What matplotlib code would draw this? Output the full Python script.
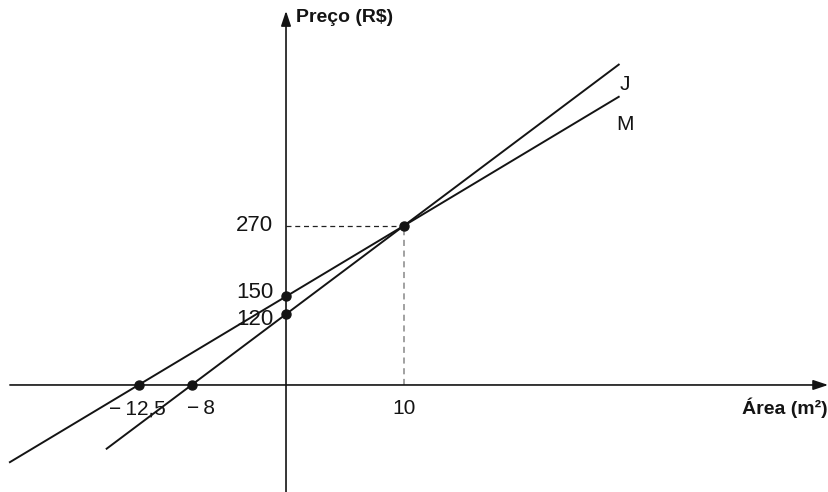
import matplotlib
matplotlib.use("Agg")
import matplotlib.pyplot as plt
import numpy as np

plt.rcParams["font.family"] = ["Liberation Sans", "DejaVu Sans"]

# ── Data ──────────────────────────────────────────────────────────────
line_names = ["J", "M"]
intercepts = [120, 150]          # price at area 0
slopes = [15, 12]                # R$ per m²
roots = [-8, -12.5]              # area where price is 0
x_ranges = [(-15.2, 28.2), (-23.4, 28.2)]
x_ticks = [-12.5, -8, 10]
x_tick_labels = ["\u2212\u200912,5", "\u2212\u20098", "10"]
y_ticks = [120, 150, 270]
meet_x, meet_y = 10, 270

INK = "#141414"

fig = plt.figure(figsize=(8.29, 4.92), dpi=100)
ax = fig.add_axes([0, 0, 1, 1])
ax.set_xlim(-24.24, 46.02)
ax.set_ylim(-181.4, 652.5)
ax.axis("off")

# axes with arrows
arrow = dict(arrowstyle="-|>,head_length=0.9,head_width=0.3", color=INK, lw=1.2,
             shrinkA=0, shrinkB=0)
ax.annotate("", xy=(45.95, 0), xytext=(-23.4, 0), arrowprops=arrow)
ax.annotate("", xy=(0, 634), xytext=(0, -181.4), arrowprops=arrow)

# the two lines
label_off = {"J": (6, -20), "M": (6, -28)}
for name, b, m, (x0, x1) in zip(line_names, intercepts, slopes, x_ranges):
    xs = np.array([x0, x1])
    ax.plot(xs, b + m * xs, color=INK, lw=1.4, zorder=3)
    ax.annotate(name, (x1, b + m * x1), xytext=label_off[name],
                textcoords="offset pixels", fontsize=15, ha="center",
                va="center", color=INK)

# guide lines to the meeting point
ax.plot([0, meet_x], [meet_y, meet_y], color="#222", lw=0.9, ls=(0, (4, 3)))
ax.plot([meet_x, meet_x], [0, meet_y], color="#888", lw=1.1, ls=(0, (4, 3)))

# marked points
pts_x = roots + [0, 0, meet_x]
pts_y = [0, 0] + intercepts + [meet_y]
ax.plot(pts_x, pts_y, "o", color=INK, ms=6.5, zorder=5)

# tick labels
x_off = {-12.5: -1, -8: 9, 10: 0}
for xv, lab in zip(x_ticks, x_tick_labels):
    ax.annotate(lab, (xv, 0), xytext=(x_off[xv], -24),
                textcoords="offset pixels", fontsize=15, ha="center",
                va="center", color=INK)
y_off = {120: -5, 150: 4, 270: 0}
for yv in y_ticks:
    ax.annotate(str(yv), (0, yv), xytext=(-13, y_off[yv]),
                textcoords="offset pixels", fontsize=16, ha="right",
                va="center", color=INK)

ax.text(0.85, 622, "Preço (R$)", fontsize=14, fontweight="bold",
        ha="left", va="center", color=INK)
ax.text(45.9, -39, "Área (m²)", fontsize=14, fontweight="bold",
        ha="right", va="center", color=INK)

plt.savefig("out.png", dpi=100, facecolor="white")
